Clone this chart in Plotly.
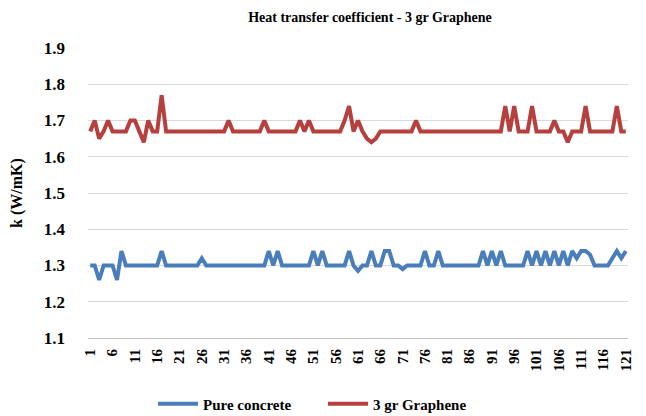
import plotly.graph_objects as go

points = list(range(1, 122))

# Pure concrete (baseline 1.30 with deviations)
pure_base = 1.30
pure_changes = {3: 1.26, 7: 1.26, 8: 1.34, 17: 1.34, 26: 1.32, 41: 1.34, 43: 1.34,
                51: 1.34, 53: 1.34, 59: 1.34, 61: 1.285, 64: 1.34, 67: 1.34, 68: 1.34,
                71: 1.29, 76: 1.34, 79: 1.34, 89: 1.34, 91: 1.34, 93: 1.34,
                99: 1.34, 101: 1.34, 103: 1.34, 105: 1.34, 107: 1.34, 109: 1.34,
                110: 1.32, 111: 1.34, 112: 1.34, 113: 1.33, 118: 1.32, 119: 1.34,
                120: 1.32, 121: 1.34}
pure_concrete = [pure_changes.get(i, pure_base) for i in points]

# 3 gr Graphene (baseline 1.67 with deviations)
gr_base = 1.67
gr_changes = {2: 1.70, 3: 1.65, 5: 1.70, 10: 1.70, 11: 1.70, 13: 1.64, 14: 1.70,
              17: 1.77, 32: 1.70, 40: 1.70, 48: 1.70, 50: 1.70, 58: 1.70, 59: 1.74,
              61: 1.70, 63: 1.65, 64: 1.64, 65: 1.65, 74: 1.70, 94: 1.74, 96: 1.74,
              100: 1.74, 105: 1.70, 108: 1.64, 112: 1.74, 119: 1.74}
graphene = [gr_changes.get(i, gr_base) for i in points]

tick_vals = list(range(1, 122, 5))
tick_text = [str(v) for v in tick_vals]
y_ticks = [1.1, 1.2, 1.3, 1.4, 1.5, 1.6, 1.7, 1.8, 1.9]

FONT = "Liberation Serif"
W, H = 646, 416
OFF = 8  # page body margin offset

fig = go.Figure()
fig.add_trace(go.Scatter(x=points, y=pure_concrete, mode="lines", name="<b>Pure concrete</b>",
                         line=dict(color="#4A7EBB", width=4)))
fig.add_trace(go.Scatter(x=points, y=graphene, mode="lines", name="<b>3 gr Graphene</b>",
                         line=dict(color="#B5403D", width=4)))

fig.update_layout(
    width=W, height=H,
    margin=dict(l=88 - OFF, r=W - (628 - OFF), t=48 - OFF, b=H - (338 - OFF), autoexpand=False),
    paper_bgcolor="white", plot_bgcolor="white",
    font=dict(family=FONT, color="#000000"),
    title=dict(text="<b>Heat transfer coefficient - 3 gr Graphene</b>",
               xref="container", x=(370 - OFF) / W, xanchor="center",
               yref="container", y=1 - (17 - OFF) / H, yanchor="middle",
               font=dict(size=14, family=FONT)),
    legend=dict(orientation="h", xref="container", x=(323 - OFF) / W, xanchor="center",
                yref="container", y=1 - (404 - OFF) / H, yanchor="middle",
                font=dict(size=15, family=FONT), itemwidth=40,
                entrywidth=115, entrywidthmode="pixels"),
    showlegend=True,
)
fig.update_xaxes(range=[0.5, 121.5], tickmode="array", tickvals=tick_vals,
                 ticktext=[f"<b>{t}</b>" for t in tick_text],
                 tickangle=-90, tickfont=dict(size=15, family=FONT), showgrid=False,
                 showline=True, linecolor="#BFBFBF", linewidth=1, ticks="", zeroline=False,
                 ticklabelstandoff=4, automargin=False)
fig.update_yaxes(range=[1.1, 1.9], tickmode="array", tickvals=y_ticks,
                 ticktext=[f"<b>{v:.1f}</b>" for v in y_ticks],
                 tickfont=dict(size=17, family=FONT), showgrid=True, gridcolor="#D9D9D9",
                 gridwidth=1, zeroline=False, showline=False, ticks="",
                 ticklabelstandoff=22, automargin=False,
                 title=dict(text="<b>k (W/mK)</b>", font=dict(size=16, family=FONT), standoff=22))

fig.write_html("out.html")
